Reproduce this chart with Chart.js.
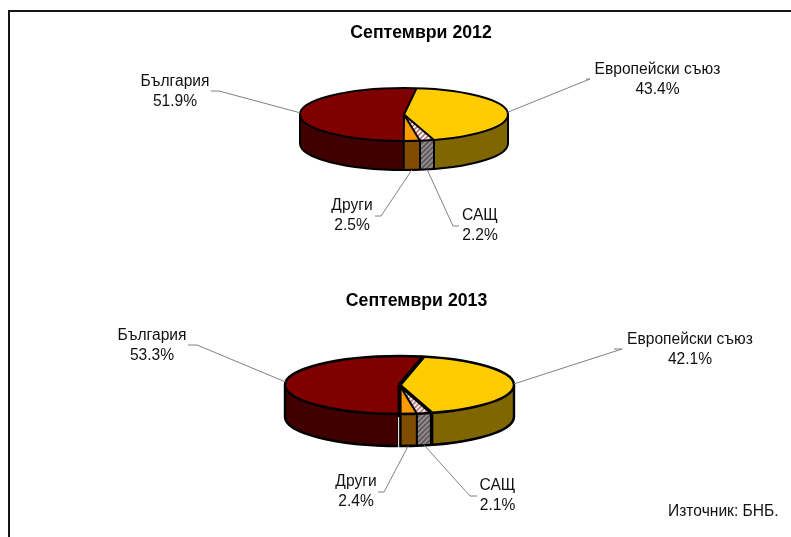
<!DOCTYPE html>
<html lang="bg">
<head>
<meta charset="UTF-8">
<title>Септември 2012 / 2013</title>
<script src="https://cdn.jsdelivr.net/npm/chart.js"></script>
<style>
    html, body { margin: 0; padding: 0; background: #fff; overflow: hidden; width: 791px; height: 537px; }
    #frame { position: absolute; left: 8px; top: 10px; right: 0; bottom: 0; border-top: 2px solid #151515; border-left: 2px solid #151515; }
    canvas { position: absolute; left: 0; }
    #source { position: absolute; left: 668px; top: 502px; font: 15.6px Arial, "Liberation Sans", sans-serif; color: #111; white-space: nowrap; }
</style>
</head>
<body>
<div id="frame"></div>
<canvas id="pie2012" width="791" height="270" style="top:0"></canvas>
<canvas id="pie2013" width="791" height="290" style="top:270px"></canvas>
<div id="source">Източник: БНБ.</div>

<script>
    var categories = ['Европейски съюз', 'САЩ', 'Други', 'България'];
    var values2012 = [43.4, 2.2, 2.5, 51.9];
    var values2013 = [42.1, 2.1, 2.4, 53.3];
    var titles = ['Септември 2012', 'Септември 2013'];

    function stripes(bg, fg, size) {
        var c = document.createElement('canvas');
        c.width = c.height = size;
        var g = c.getContext('2d');
        g.fillStyle = bg;
        g.fillRect(0, 0, size, size);
        g.strokeStyle = fg;
        g.lineWidth = 1.6;
        g.beginPath();
        g.moveTo(-1, 1); g.lineTo(1, -1);
        g.moveTo(0, size); g.lineTo(size, 0);
        g.moveTo(size - 1, size + 1); g.lineTo(size + 1, size - 1);
        g.stroke();
        return g.createPattern(c, 'repeat');
    }

    // draws the walls under the library's slices, and squashes the slices into an ellipse
    var pie3d = {
        id: 'pie3d',
        beforeDatasetsDraw: function(chart, args, o) {
            var ctx = chart.ctx;
            var arcs = chart.getDatasetMeta(0).data;
            var r = arcs[0].outerRadius;
            var cx = o.pieX, cy = o.pieY - chart.canvas.offsetTop, ry = r * o.squash;

            ctx.save();
            ctx.strokeStyle = '#000';
            arcs.forEach(function(arc, i) {
                var a = Math.max(arc.startAngle, 0), b = Math.min(arc.endAngle, Math.PI);
                if (a >= b) return;
                ctx.beginPath();
                ctx.ellipse(cx, cy, r, ry, 0, a, b);
                ctx.ellipse(cx, cy + o.depth, r, ry, 0, b, a, true);
                ctx.closePath();
                ctx.fillStyle = o.sideColors[i];
                ctx.fill();
            });
            // front outline
            ctx.lineWidth = o.rimWidth;
            ctx.beginPath();
            ctx.moveTo(cx + r, cy);
            ctx.lineTo(cx + r, cy + o.depth);
            ctx.ellipse(cx, cy + o.depth, r, ry, 0, 0, Math.PI);
            ctx.lineTo(cx - r, cy);
            ctx.stroke();
            arcs.forEach(function(arc, i) {
                var a = arc.startAngle;
                if (a <= 0 || a >= Math.PI) return;
                var x = cx + r * Math.cos(a), y = cy + ry * Math.sin(a);
                ctx.lineWidth = o.edgeWidths[i];
                ctx.beginPath();
                ctx.moveTo(x, y);
                ctx.lineTo(x, y + o.depth);
                ctx.stroke();
                // the 2013 pie has a thin white gap where the big slice is pulled away
                if (o.gapEdge === i) {
                    ctx.save();
                    ctx.strokeStyle = '#fff';
                    ctx.lineWidth = 1;
                    ctx.beginPath();
                    ctx.moveTo(x - 1, y + 3);
                    ctx.lineTo(x - 1, y + o.depth + 2);
                    ctx.stroke();
                    ctx.restore();
                }
            });
            ctx.restore();

            ctx.save();
            ctx.translate(cx, cy);
            ctx.scale(1, o.squash);
            ctx.translate(-arcs[0].x, -arcs[0].y);
        },
        afterDatasetsDraw: function(chart, args, o) {
            var ctx = chart.ctx;
            ctx.restore();

            var arcs = chart.getDatasetMeta(0).data;
            var values = chart.data.datasets[0].data;
            var top = chart.canvas.offsetTop;
            var r = arcs[0].outerRadius;
            var cx = o.pieX, cy = o.pieY - top, ry = r * o.squash;

            ctx.save();
            ctx.strokeStyle = '#000';
            ctx.lineJoin = 'round';
            ctx.lineWidth = o.rimWidth;
            ctx.beginPath();
            ctx.ellipse(cx, cy, r, ry, 0, 0, Math.PI * 2);
            ctx.stroke();
            arcs.forEach(function(arc, i) {
                ctx.lineWidth = o.edgeWidths[i];
                ctx.beginPath();
                ctx.moveTo(cx, cy);
                ctx.lineTo(cx + r * Math.cos(arc.startAngle), cy + ry * Math.sin(arc.startAngle));
                ctx.stroke();
            });

            // leader lines and labels
            arcs.forEach(function(arc, i) {
                var m = (arc.startAngle + arc.endAngle) / 2;
                var x = cx + r * Math.cos(m), y = cy + ry * Math.sin(m);
                if (Math.sin(m) > 0) y += o.depth;
                var l = o.labels[i];
                ctx.strokeStyle = '#808080';
                ctx.lineWidth = 1;
                ctx.beginPath();
                ctx.moveTo(x, y);
                ctx.lineTo(l.ex, l.ey - top);
                ctx.lineTo(l.tx, l.ey - top);
                ctx.stroke();

                ctx.fillStyle = '#111';
                ctx.font = '15.6px Arial, "Liberation Sans", sans-serif';
                ctx.textAlign = 'center';
                ctx.textBaseline = 'middle';
                ctx.fillText(categories[i], l.x, l.y - top);
                ctx.fillText(values[i].toFixed(1) + '%', l.x, l.y + 19.5 - top);
            });
            ctx.restore();
        }
    };

    function makePie(id, title, values, cfg) {
        var k = cfg.squash;
        var hatchTop = stripes('#fff', '#b86a6a', 5);
        hatchTop.setTransform(new DOMMatrix().scale(1, 1 / k));
        var hatchSide = stripes('#948c8e', '#5c5658', 5);

        return new Chart(document.getElementById(id), {
            type: 'pie',
            data: {
                labels: categories,
                datasets: [{
                    data: values,
                    backgroundColor: ['#ffcc00', hatchTop, '#ff9900', '#800000'],
                    borderWidth: 0,
                    hoverOffset: 0,
                    clip: false
                }]
            },
            options: {
                responsive: false,
                animation: false,
                rotation: cfg.rotation,
                layout: { padding: cfg.padding },
                plugins: {
                    legend: { display: false },
                    tooltip: { enabled: false },
                    title: {
                        display: true,
                        text: title,
                        color: '#000',
                        font: { family: 'Arial, "Liberation Sans", sans-serif', size: 17.7, weight: 'bold' },
                        padding: { top: cfg.titleTop, bottom: 4 }
                    },
                    pie3d: {
                        pieX: cfg.pieX,
                        pieY: cfg.pieY,
                        squash: k,
                        depth: cfg.depth,
                        rimWidth: cfg.rimWidth,
                        edgeWidths: cfg.edgeWidths,
                        gapEdge: cfg.gapEdge,
                        sideColors: ['#806600', hatchSide, '#804c00', '#400000'],
                        labels: cfg.labels
                    }
                }
            },
            plugins: [pie3d]
        });
    }

    // the padding centres the chart area (and so the title) on the title's spot; the pie is then moved to pieX, pieY
    makePie('pie2012', titles[0], values2012, {
        rotation: 7, squash: 0.255, depth: 29, pieX: 404, pieY: 114.5, titleTop: 22,
        padding: { left: 317, right: 266, top: 0, bottom: 14 },
        rimWidth: 2, edgeWidths: [2, 2, 2, 2],
        labels: [
            { x: 657.5, y: 70, ex: 590, ey: 79, tx: 586 },
            { x: 480, y: 216, ex: 453, ey: 226, tx: 459 },
            { x: 352, y: 206, ex: 381, ey: 216, tx: 375 },
            { x: 175, y: 82, ex: 219, ey: 91, tx: 211 }
        ]
    });

    makePie('pie2013', titles[1], values2013, {
        rotation: 12, squash: 0.253, depth: 32, pieX: 399.5, pieY: 385, titleTop: 20,
        padding: { left: 302, right: 260, top: 0, bottom: 15 },
        rimWidth: 2.4, edgeWidths: [4, 3.5, 2, 4], gapEdge: 3,
        labels: [
            { x: 690, y: 340, ex: 622, ey: 349, tx: 614 },
            { x: 497.5, y: 486, ex: 470, ey: 496, tx: 477 },
            { x: 356, y: 482, ex: 384, ey: 492, tx: 378 },
            { x: 152, y: 336, ex: 197, ey: 345, tx: 188 }
        ]
    });
</script>
</body>
</html>
